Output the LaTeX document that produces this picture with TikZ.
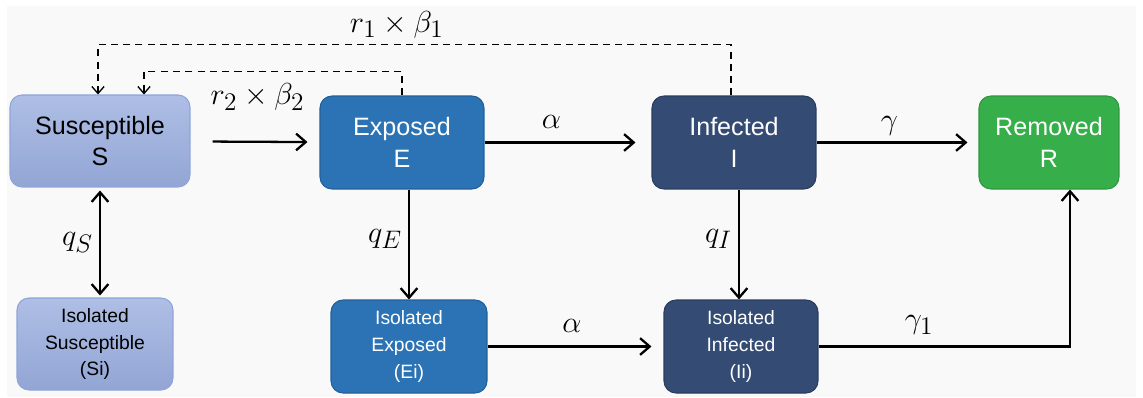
\documentclass[tikz,border=0pt]{standalone}
\usepackage{amsmath}
\usepackage{fontspec}
\setmainfont{Liberation Sans}
\usetikzlibrary{arrows.meta}

\definecolor{bgcol}{HTML}{F9F9F9}
\definecolor{suscol}{HTML}{9AAEDF}
\definecolor{susedge}{HTML}{8FA4DA}
\definecolor{expcol}{HTML}{2B73B5}
\definecolor{expedge}{HTML}{215F98}
\definecolor{infcol}{HTML}{344B73}
\definecolor{infedge}{HTML}{2A3D5E}
\definecolor{remcol}{HTML}{36AF4A}
\definecolor{remedge}{HTML}{2E963F}

\begin{document}
\begin{tikzpicture}[x=0.02cm,y=-0.02cm,
    box/.style={rounded corners=0.24cm,draw,line width=0.6pt,align=center,inner sep=0pt,minimum height=1.86cm},
    topbox/.style={box,font=\fontsize{14.3}{18}\selectfont},
    lowbox/.style={box,minimum width=3.12cm,font=\fontsize{11}{15.3}\selectfont},
    susbox/.style={draw=susedge,top color=suscol!80!white,bottom color=suscol!95!black,text=black},
    expbox/.style={draw=expedge,fill=expcol,text=white},
    infbox/.style={draw=infedge,fill=infcol,text=white},
    rembox/.style={draw=remedge,fill=remcol,text=white},
    flow/.style={-{Straight Barb[length=5.5pt,width=9.5pt]},line width=1.3pt},
    twoway/.style={{Straight Barb[length=5.5pt,width=9.5pt]}-{Straight Barb[length=5.5pt,width=9.5pt]},line width=1.3pt},
    contact/.style={-{Straight Barb[length=4pt,width=7pt]},line width=0.75pt,dash pattern=on 4pt off 3pt},
    lab/.style={font=\fontsize{19}{22}\selectfont}]
    \useasboundingbox (0,0) rectangle (1143,397);
    \fill[bgcol] (7,6) rectangle (1136,397);

    \node[topbox,susbox,minimum width=3.6cm,minimum height=1.84cm] (S) at (100,141) {Susceptible\\S};
    \node[topbox,expbox,minimum width=3.28cm] (E) at (402,142.5) {Exposed\\E};
    \node[topbox,infbox,minimum width=3.28cm] (I) at (734,142.5) {Infected\\I};
    \node[topbox,rembox,minimum width=2.8cm] (R) at (1049,142.5) {Removed\\R};
    \node[lowbox,susbox,minimum height=1.84cm] (Si) at (95,344) {Isolated\\Susceptible\\(Si)};
    \node[lowbox,expbox] (Ei) at (409,346.5) {Isolated\\Exposed\\(Ei)};
    \node[lowbox,infbox,minimum width=3.08cm] (Ii) at (741,346.5) {Isolated\\Infected\\(Ii)};

    \draw[flow,shorten <=0.44cm,shorten >=0.24cm] (S) -- (E);
    \draw[flow,shorten >=0.32cm] (E) -- node[lab,above=4pt,pos=.4] {$\alpha$} (I);
    \draw[flow,shorten >=0.22cm] (I) -- node[lab,above,pos=.45] {$\gamma$} (R);
    \draw[twoway,shorten <=0.06cm,shorten >=0.04cm] (S) -- node[lab,left] {$q_S$} (S |- Si.north);
    \draw[flow] (Ei.north |- E.south) -- node[lab,left,pos=.45] {$q_E$} (Ei.north);
    \draw[flow] ([xshift=-0.04cm]Ii.north |- I.south) -- node[lab,left,pos=.45] {$q_I$} ([xshift=-0.04cm]Ii.north);
    \draw[flow,shorten >=0.24cm] (Ei) -- node[lab,above=4pt,pos=.48] {$\alpha$} (Ii);
    \draw[flow] (Ii) -| node[lab,above=3pt,pos=.2] {$\gamma_1$} ([xshift=0.42cm]R.south);

    \draw[contact] ([xshift=-0.06cm]I.north) -- ++(0,-51) -| node[lab,above,pos=.264] {$r_1\times\beta_1$} ([xshift=-0.04cm]S.north);
    \draw[contact] (E.north) -- ++(0,-24) -| node[lab,below=3pt,pos=.28] {$r_2\times\beta_2$} ([xshift=0.88cm]S.north);
\end{tikzpicture}
\end{document}
